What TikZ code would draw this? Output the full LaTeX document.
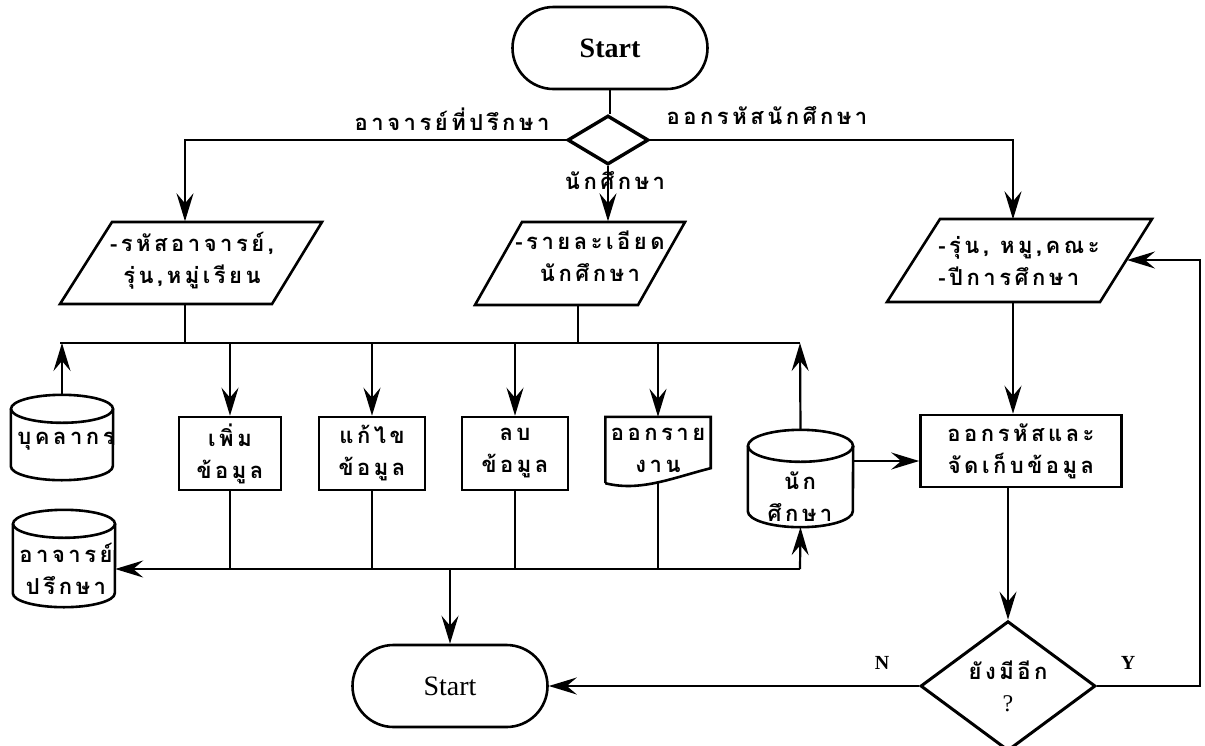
\documentclass[tikz,border=0pt]{standalone}
\usepackage{fontspec}
\setmainfont{Liberation Serif}
\newfontfamily\thaifont[Script=Thai,LetterSpace=16]{Loma}
\usetikzlibrary{arrows.meta,shapes.geometric,shapes.misc,calc}

\tikzset{
  ln/.style={line width=2.2pt},
  shp/.style={line width=2.6pt},
  arr/.style={ln,-{Stealth[length=28pt,width=17pt,inset=10pt]}},
  th/.style={font=\thaifont\bfseries\fontsize{22}{32}\selectfont, align=center, inner sep=0pt},
  procbox/.style={draw, shp, rectangle, inner sep=0pt, th},
  term/.style={draw, shp, rounded rectangle, minimum width=195pt, minimum height=82pt, inner sep=0pt, font=\fontsize{28}{30}\selectfont},
  ioshape/.style={rectangle, inner sep=0pt, minimum height=83pt, minimum width=150pt, th},
  dbshape/.style={rectangle, inner sep=0pt, minimum width=102pt},
  decide/.style={draw, diamond, inner sep=0pt},
}

% database cylinder around a named box: name, x radius, y radius
\newcommand\drawdb[3]{%
  \draw[shp] ($(#1.north)+(0,#3)$) ellipse [x radius=#2pt, y radius=#3pt];
  \draw[shp] ($(#1.north west)+(0,#3)$) -- ($(#1.south west)+(0,-#3)$)
    arc[start angle=180, end angle=360, x radius=#2pt, y radius=#3pt]
    -- ($(#1.north east)+(0,#3)$);
}

\begin{document}
\begin{tikzpicture}[x=1pt,y=-1pt]
\useasboundingbox (0,0) rectangle (1205,745);

% start and first decision
\node[term, font=\bfseries\fontsize{28}{30}\selectfont] (start1) at (610,48) {Start};
\node[decide, line width=3.4pt, minimum width=81pt, minimum height=49pt] (dia) at (608,140) {};
\draw[ln] (start1.south) -- (start1.south |- dia.north);

\node[th] (lblA) at (452,119) {อาจารย์ที่ปรึกษา};
\node[th] (lblB) at (767,116) {ออกรหัสนักศึกษา};
\node[th] (lblC) at (615,181) {นักศึกษา};

% input parallelograms
\node[ioshape] (pL) at (185,263) {};
\node[th] (pLt) at (192,261) {-รหัสอาจารย์,\\รุ่น,หมู่เรียน};
\draw[shp] (112,222) -- (322,222) -- (272,304) -- (60,304) -- cycle;

\node[ioshape] (pM) at (578,263) {};
\node[th] (pMt) at (590,256) {-รายละเอียด\\นักศึกษา};
\draw[shp] (522,222) -- (685,222) -- (638,305) -- (475,305) -- cycle;

\node[ioshape] (pR) at (1013,261) {};
\node[th, align=left] (pRt) at (1019,261) {-รุ่น, หมู,คณะ\\-ปีการศึกษา};
\draw[shp] (940,219) -- (1152,219) -- (1100,302) -- (887,302) -- cycle;
\coordinate (pRin) at (1127,260);

\draw[arr] (dia.west) -| (pL.north);
\draw[arr] (dia.south) -- (dia.south |- pM.north);
\draw[arr] (dia.east) -| (pR.north);

% upper distribution line
\coordinate (b1w) at (60,343);
\coordinate (b1e) at (800,343);
\draw[ln] (b1w) -- (b1e);
\draw[ln] (pL.south) -- (pL.south |- b1w);
\draw[ln] (pM.south) -- (pM.south |- b1w);

% stores and processes
\node[dbshape, minimum height=85pt] (buk) at (62,437.5) {};
\drawdb{buk}{51}{14}
\node[th] (bukt) at (66,441) {บุคลากร};

\node[dbshape, minimum height=97pt] (aj) at (64,558.5) {};
\drawdb{aj}{51}{14}
\node[th] (ajt) at (66,569) {อาจารย์\\ปรึกษา};

\node[dbshape, minimum width=105pt, minimum height=97pt] (stu) at (800.5,478.5) {};
\drawdb{stu}{52.5}{16}
\node[th] (stut) at (800,497) {นัก\\ศึกษา};

\node[procbox, minimum width=102pt, minimum height=73pt] (add) at (230,453.5) {เพิ่ม\\ข้อมูล};
\node[procbox, minimum width=106pt, minimum height=73pt] (edit) at (372,453.5) {แก้ไข\\ข้อมูล};
\node[procbox, minimum width=106pt, minimum height=73pt] (del) at (515,453.5) {ลบ\\ข้อมูล};

\node[rectangle, inner sep=0pt, minimum width=105pt, minimum height=66pt, th] (rep) at (658,450) {ออกราย\\งาน};
\draw[shp] (rep.south west) -- (rep.north west) -- (rep.north east) -- ($(rep.south east)+(0,-15)$)
  .. controls (672,478) and (640,492) .. (rep.south west);

\node[procbox, minimum width=201pt, minimum height=72pt] (gen) at (1021,451) {ออกรหัสและ\\จัดเก็บข้อมูล};

\draw[arr] (buk.north) -- (buk.north |- b1w);
\draw[arr] (add.north |- b1w) -- (add.north);
\draw[arr] (edit.north |- b1w) -- (edit.north);
\draw[arr] (del.north |- b1w) -- (del.north);
\draw[arr] (rep.north |- b1w) -- (rep.north);
\draw[arr] (stu.north) -- (b1e);

\draw[arr] (pR.south) -- (pR.south |- gen.north);
\draw[arr] (stu.east |- 0,461) -- (gen.west |- 0,461);

% lower collection line
\coordinate (b2e) at (800,569);
\node[term] (start2) at (450,686) {Start};
\draw[arr] (b2e) -- (aj.east |- b2e);
\draw[arr] (b2e) -- (stu.south);
\draw[ln] (add.south) -- (add.south |- b2e);
\draw[ln] (edit.south) -- (edit.south |- b2e);
\draw[ln] (del.south) -- (del.south |- b2e);
\draw[ln] (rep.south) -- (rep.south |- b2e);
\draw[arr] (start2.north |- b2e) -- (start2.north);

% loop decision
\node[decide, line width=3pt, minimum width=175pt, minimum height=114pt,
      font=\thaifont\bfseries\fontsize{22}{32}\selectfont, align=center] (dec2) at (1008,686)
      {ยังมีอีก\\{\rmfamily\mdseries\fontsize{24}{32}\selectfont ?}};
\draw[arr] (dec2.north |- gen.south) -- (dec2.north);
\draw[arr] (dec2.west) -- (start2.east);
\coordinate (loopc) at (1200,260);
\draw[arr] (dec2.east) -| (loopc) -- (pRin);

\node[font=\bfseries\fontsize{20}{22}\selectfont] (nlab) at (882,663) {N};
\node[font=\bfseries\fontsize{20}{22}\selectfont] (ylab) at (1128,663) {Y};
\end{tikzpicture}
\end{document}
